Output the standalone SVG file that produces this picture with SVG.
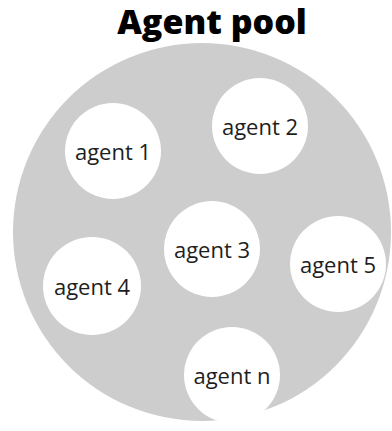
<svg xmlns="http://www.w3.org/2000/svg" width="392" height="431" viewBox="0 0 392 431">
<style>
.pool{fill:#cdcdcd}
.node circle{fill:#ffffff}
.node text{font-family:"Open Sans","Noto Sans",sans-serif;font-size:22px;fill:#1e1e1e;text-anchor:middle}
.title{font-family:"Open Sans","Noto Sans",sans-serif;font-size:34px;font-weight:800;fill:#000;text-anchor:middle}
</style>
<rect width="392" height="431" fill="#ffffff"/>
<text class="title" x="212" y="34">Agent pool</text>
<g id="pool"><circle class="pool" cx="202" cy="232" r="189"/></g>
<g id="connectors"></g>
<g id="agent1" class="node"><circle cx="113" cy="151" r="48"/><text x="113" y="160">agent 1</text></g>
<g id="agent2" class="node"><circle cx="260" cy="126" r="48"/><text x="260" y="135">agent 2</text></g>
<g id="agent3" class="node"><circle cx="212" cy="249" r="48"/><text x="212" y="258">agent 3</text></g>
<g id="agent4" class="node"><circle cx="92" cy="286" r="49"/><text x="92" y="295">agent 4</text></g>
<g id="agent5" class="node"><circle cx="338" cy="264" r="48"/><text x="338" y="273">agent 5</text></g>
<g id="agentn" class="node"><circle cx="232" cy="375" r="48"/><text x="232" y="384">agent n</text></g>
</svg>
